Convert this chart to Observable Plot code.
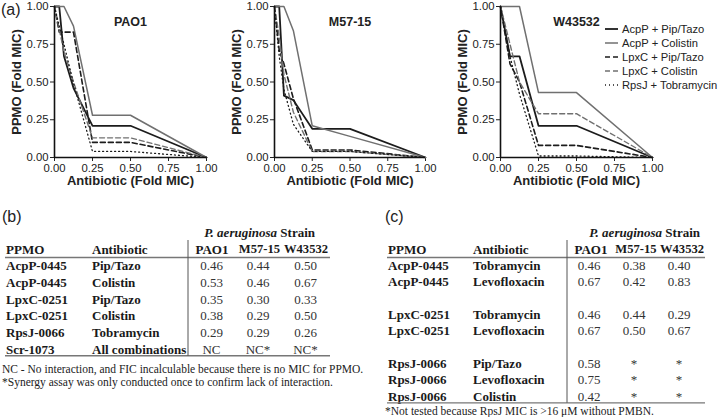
<!DOCTYPE html>
<html><head><meta charset="utf-8">
<script src="https://cdn.jsdelivr.net/npm/d3@7"></script>
<script src="https://cdn.jsdelivr.net/npm/@observablehq/plot@0.6"></script>
<style>
body{margin:0;background:#fff;}
#wrap{position:relative;width:720px;height:417px;overflow:hidden;font-family:"Liberation Sans",Arial,sans-serif;background:#fff;}
.chart{position:absolute;top:0;}
#legend{position:absolute;left:605px;top:22px;font-size:11.2px;color:#222;}
#legend .row{height:14px;display:flex;align-items:center;white-space:nowrap;}
#legend svg{margin-right:4px;}
</style></head><body><div id="wrap"></div>
<script>
// ---------- data: checkerboard isobolograms ----------
const doses = [0, 0.03125, 0.0625, 0.125, 0.25, 0.5, 1];   // antibiotic (fold MIC)
const axisTicks = [0, 0.25, 0.5, 0.75, 1];
const seriesNames = ["AcpP + Pip/Tazo", "AcpP + Colistin", "LpxC + Pip/Tazo", "LpxC + Colistin", "RpsJ + Tobramycin"];
const strains = ["PAO1", "M57-15", "W43532"];

// PPMO (fold MIC) at each dose
const pao1AcpPip = [1, 1, 0.67, 0.46, 0.21, 0.21, 0];
const pao1AcpCol = [1, 1, 1, 0.87, 0.28, 0.28, 0];
const pao1LpxPip = [1, 0.83, 0.83, 0.83, 0.10, 0.10, 0];
const pao1LpxCol = [1, 0.85, 0.70, 0.50, 0.13, 0.13, 0];
const pao1RpsTob = [1, 0.87, 0.75, 0.49, 0.04, 0.04, 0];

const m57AcpPip = [1, 1, 0.41, 0.38, 0.19, 0.19, 0];
const m57AcpCol = [1, 1, 1, 0.84, 0.21, 0.14, 0];
const m57LpxPip = [1, 0.71, 0.62, 0.39, 0.05, 0.05, 0];
const m57LpxCol = [1, 0.80, 0.55, 0.30, 0.04, 0.04, 0];
const m57RpsTob = [1, 0.67, 0.45, 0.22, 0.04, 0.04, 0];

const w43AcpPip = [1, null, 0.67, 0.67, 0.21, 0.21, 0];
const w43AcpCol = [1, 1, 1, 1, 0.43, 0.43, 0];
const w43LpxPip = [1, null, 0.62, 0.50, 0.08, 0.08, 0];
const w43LpxCol = [1, null, 0.75, 0.50, 0.29, 0.29, 0];
const w43RpsTob = [1, null, 0.67, 0.42, 0.01, 0.01, 0];

// ---------- table (b) ----------
const bPpmo = ["AcpP-0445", "AcpP-0445", "LpxC-0251", "LpxC-0251", "RpsJ-0066", "Scr-1073"];
const bAntibiotic = ["Pip/Tazo", "Colistin", "Pip/Tazo", "Colistin", "Tobramycin", "All combinations"];
const bPAO1 = ["0.46", "0.53", "0.35", "0.38", "0.29", "NC"];
const bM57 = ["0.44", "0.46", "0.30", "0.29", "0.29", "NC*"];
const bW43 = ["0.50", "0.67", "0.33", "0.50", "0.26", "NC*"];
const bNotes = ["NC - No interaction, and FIC incalculable because there is no MIC for PPMO.",
                "*Synergy assay was only conducted once to confirm lack of interaction."];

// ---------- table (c) ----------
const cPpmo = ["AcpP-0445", "AcpP-0445", "", "LpxC-0251", "LpxC-0251", "", "RpsJ-0066", "RpsJ-0066", "RpsJ-0066"];
const cAntibiotic = ["Tobramycin", "Levofloxacin", "", "Tobramycin", "Levofloxacin", "", "Pip/Tazo", "Levofloxacin", "Colistin"];
const cPAO1 = ["0.46", "0.67", "", "0.46", "0.67", "", "0.58", "0.75", "0.42"];
const cM57 = ["0.38", "0.42", "", "0.44", "0.50", "", "*", "*", "*"];
const cW43 = ["0.40", "0.83", "", "0.29", "0.67", "", "*", "*", "*"];
const cNote = "*Not tested because RpsJ MIC is >16 \u03bcM without PMBN.";

const colHeads = ["PPMO", "Antibiotic", "PAO1", "M57-15", "W43532"];

// ---------- styles ----------
const DARK = "#1c1c1c", GREY = "#707070";
const styles = [
  {stroke: DARK, w: 1.8, dash: null},
  {stroke: GREY, w: 1.5, dash: null},
  {stroke: DARK, w: 1.6, dash: "5,3"},
  {stroke: GREY, w: 1.4, dash: "5,3"},
  {stroke: DARK, w: 1.3, dash: "1,3"}
];
const SANS = "'Liberation Sans', Arial, sans-serif";
const SERIF = "'Liberation Serif', 'Times New Roman', serif";
const wrap = document.getElementById("wrap");

function chart(title, ys, left, width, marginRight) {
  const marks = [];
  ys.forEach((arr, i) => {
    const data = doses.map((x, j) => ({x, y: arr[j]})).filter(d => d.y != null);
    const s = styles[i];
    const o = {x: "x", y: "y", stroke: s.stroke, strokeWidth: s.w};
    if (s.dash) o.strokeDasharray = s.dash;
    marks.push(Plot.line(data, o));
  });
  marks.push(Plot.ruleX([0], {stroke: "#111", strokeWidth: 1.6}));
  marks.push(Plot.ruleY([0], {stroke: "#111", strokeWidth: 1.6}));
  marks.push(Plot.text([title], {frameAnchor: "top", dy: 11, textAnchor: "middle", fontWeight: "bold", fontSize: 12.5, fill: "#222"}));
  marks.push(Plot.text(["Antibiotic (Fold MIC)"], {frameAnchor: "bottom", dy: 27, textAnchor: "middle", fontWeight: "bold", fontSize: 13, fill: "#222"}));
  marks.push(Plot.text(["PPMO (Fold MIC)"], {frameAnchor: "left", dx: -37.5, rotate: -90, textAnchor: "middle", fontWeight: "bold", fontSize: 13, fill: "#222"}));
  const p = Plot.plot({
    width, height: 195,
    marginLeft: 54, marginRight, marginTop: 6, marginBottom: 38,
    style: {fontFamily: SANS, fontSize: "11.3px", color: "#222", background: "none", overflow: "visible"},
    x: {domain: [0, 1], ticks: axisTicks, tickFormat: d3.format(".2f"), tickSize: 4, tickPadding: 2, label: null},
    y: {domain: [0, 1], ticks: axisTicks, tickFormat: d3.format(".2f"), tickSize: 4, tickPadding: 2, label: null},
    marks
  });
  const div = document.createElement("div");
  div.className = "chart";
  div.style.left = left + "px";
  div.style.width = width + "px";
  div.appendChild(p);
  wrap.appendChild(div);
}

chart(strains[0], [pao1AcpPip, pao1AcpCol, pao1LpxPip, pao1LpxCol, pao1RpsTob], 0, 220, 14);
chart(strains[1], [m57AcpPip, m57AcpCol, m57LpxPip, m57LpxCol, m57RpsTob], 220, 226, 21);
chart(strains[2], [w43AcpPip, w43AcpCol, w43LpxPip, w43LpxCol, w43RpsTob], 446, 274, 68);

// legend
const leg = document.createElement("div");
leg.id = "legend";
seriesNames.forEach((n, i) => {
  const s = styles[i];
  const row = document.createElement("div");
  row.className = "row";
  row.innerHTML = `<svg width="13" height="6"><line x1="0" x2="13" y1="3" y2="3" stroke="${s.stroke}" stroke-width="${s.w}" ${s.dash ? `stroke-dasharray="${s.dash}"` : ""}/></svg><span>${n}</span>`;
  leg.appendChild(row);
});
wrap.appendChild(leg);

// panel label (a)
const svg = d3.select(wrap).append("svg").attr("width", 720).attr("height", 417)
  .style("position", "absolute").style("left", 0).style("top", 0).style("pointer-events", "none");
svg.append("text").attr("x", 1).attr("y", 9).attr("dominant-baseline", "central")
  .attr("font-family", SANS).attr("font-size", 16).attr("fill", "#222").text("(a)");

function txt(x, y, s, o = {}) {
  return svg.append("text").attr("x", x).attr("y", y).attr("dominant-baseline", "central")
    .attr("text-anchor", o.anchor || "start").attr("font-family", o.family || SERIF)
    .attr("font-size", o.size || 13).attr("font-weight", o.weight || "normal")
    .attr("fill", o.fill || "#1a1a1a").text(s);
}

function table(label, lx, geom, ppmo, anti, v1, v2, v3, notes) {
  const g = geom;
  txt(lx, 216, label, {family: SANS, size: 16, fill: "#222"});
  const h = svg.append("text").attr("x", g.hx).attr("y", 232).attr("dominant-baseline", "central")
    .attr("text-anchor", "end").attr("font-family", SERIF).attr("font-size", 13)
    .attr("font-weight", "bold").attr("fill", "#1a1a1a");
  h.append("tspan").attr("font-style", "italic").text("P. aeruginosa");
  h.append("tspan").text(" Strain");
  txt(g.c0, 249, colHeads[0], {weight: "bold"});
  txt(g.c1, 249, colHeads[1], {weight: "bold"});
  txt(g.c2, 249, colHeads[2], {weight: "bold", anchor: "middle"});
  txt(g.c3, 249, colHeads[3], {weight: "bold", anchor: "middle", size: 12.6});
  txt(g.c4, 249, colHeads[4], {weight: "bold", anchor: "middle", size: 12.6});
  svg.append("line").attr("x1", g.r0).attr("x2", g.r1).attr("y1", 257.5).attr("y2", 257.5).attr("stroke", "#777").attr("stroke-width", 1.3);
  ppmo.forEach((p, i) => {
    const y = 265.5 + i * g.pitch;
    if (p) txt(g.c0, y, p, {weight: "bold"});
    if (anti[i]) txt(g.c1, y, anti[i], {weight: "bold"});
    if (v1[i]) txt(g.v2, y, v1[i], {anchor: "middle", fill: "#333"});
    if (v2[i]) txt(g.v3, y, v2[i], {anchor: "middle", fill: "#333"});
    if (v3[i]) txt(g.v4, y, v3[i], {anchor: "middle", fill: "#333"});
  });
  const yb = 265.5 + (ppmo.length - 1) * g.pitch + 6.5;
  svg.append("line").attr("x1", g.r0).attr("x2", g.r1).attr("y1", yb).attr("y2", yb).attr("stroke", "#777").attr("stroke-width", 1.3);
  svg.append("line").attr("x1", g.vx).attr("x2", g.vx).attr("y1", 240).attr("y2", yb).attr("stroke", "#555").attr("stroke-width", 1);
  notes.forEach((n, i) => txt(lx, yb + g.noteGap + i * 13, n, {size: 11.5, fill: "#222"}));
}

table("(b)", 2, {hx: 315, c0: 6, c1: 92, c2: 212, c3: 259.5, c4: 306, v2: 211.5, v3: 258, v4: 305.5, r0: 5, r1: 330, vx: 188, pitch: 16.75, noteGap: 13},
  bPpmo, bAntibiotic, bPAO1, bM57, bW43, bNotes);
table("(c)", 385, {hx: 700, c0: 388, c1: 473, c2: 591, c3: 636, c4: 682, v2: 589, v3: 634, v4: 679, r0: 387, r1: 705, vx: 567, pitch: 16.35, noteGap: 8.5},
  cPpmo, cAntibiotic, cPAO1, cM57, cW43, [cNote]);
</script></body></html>
